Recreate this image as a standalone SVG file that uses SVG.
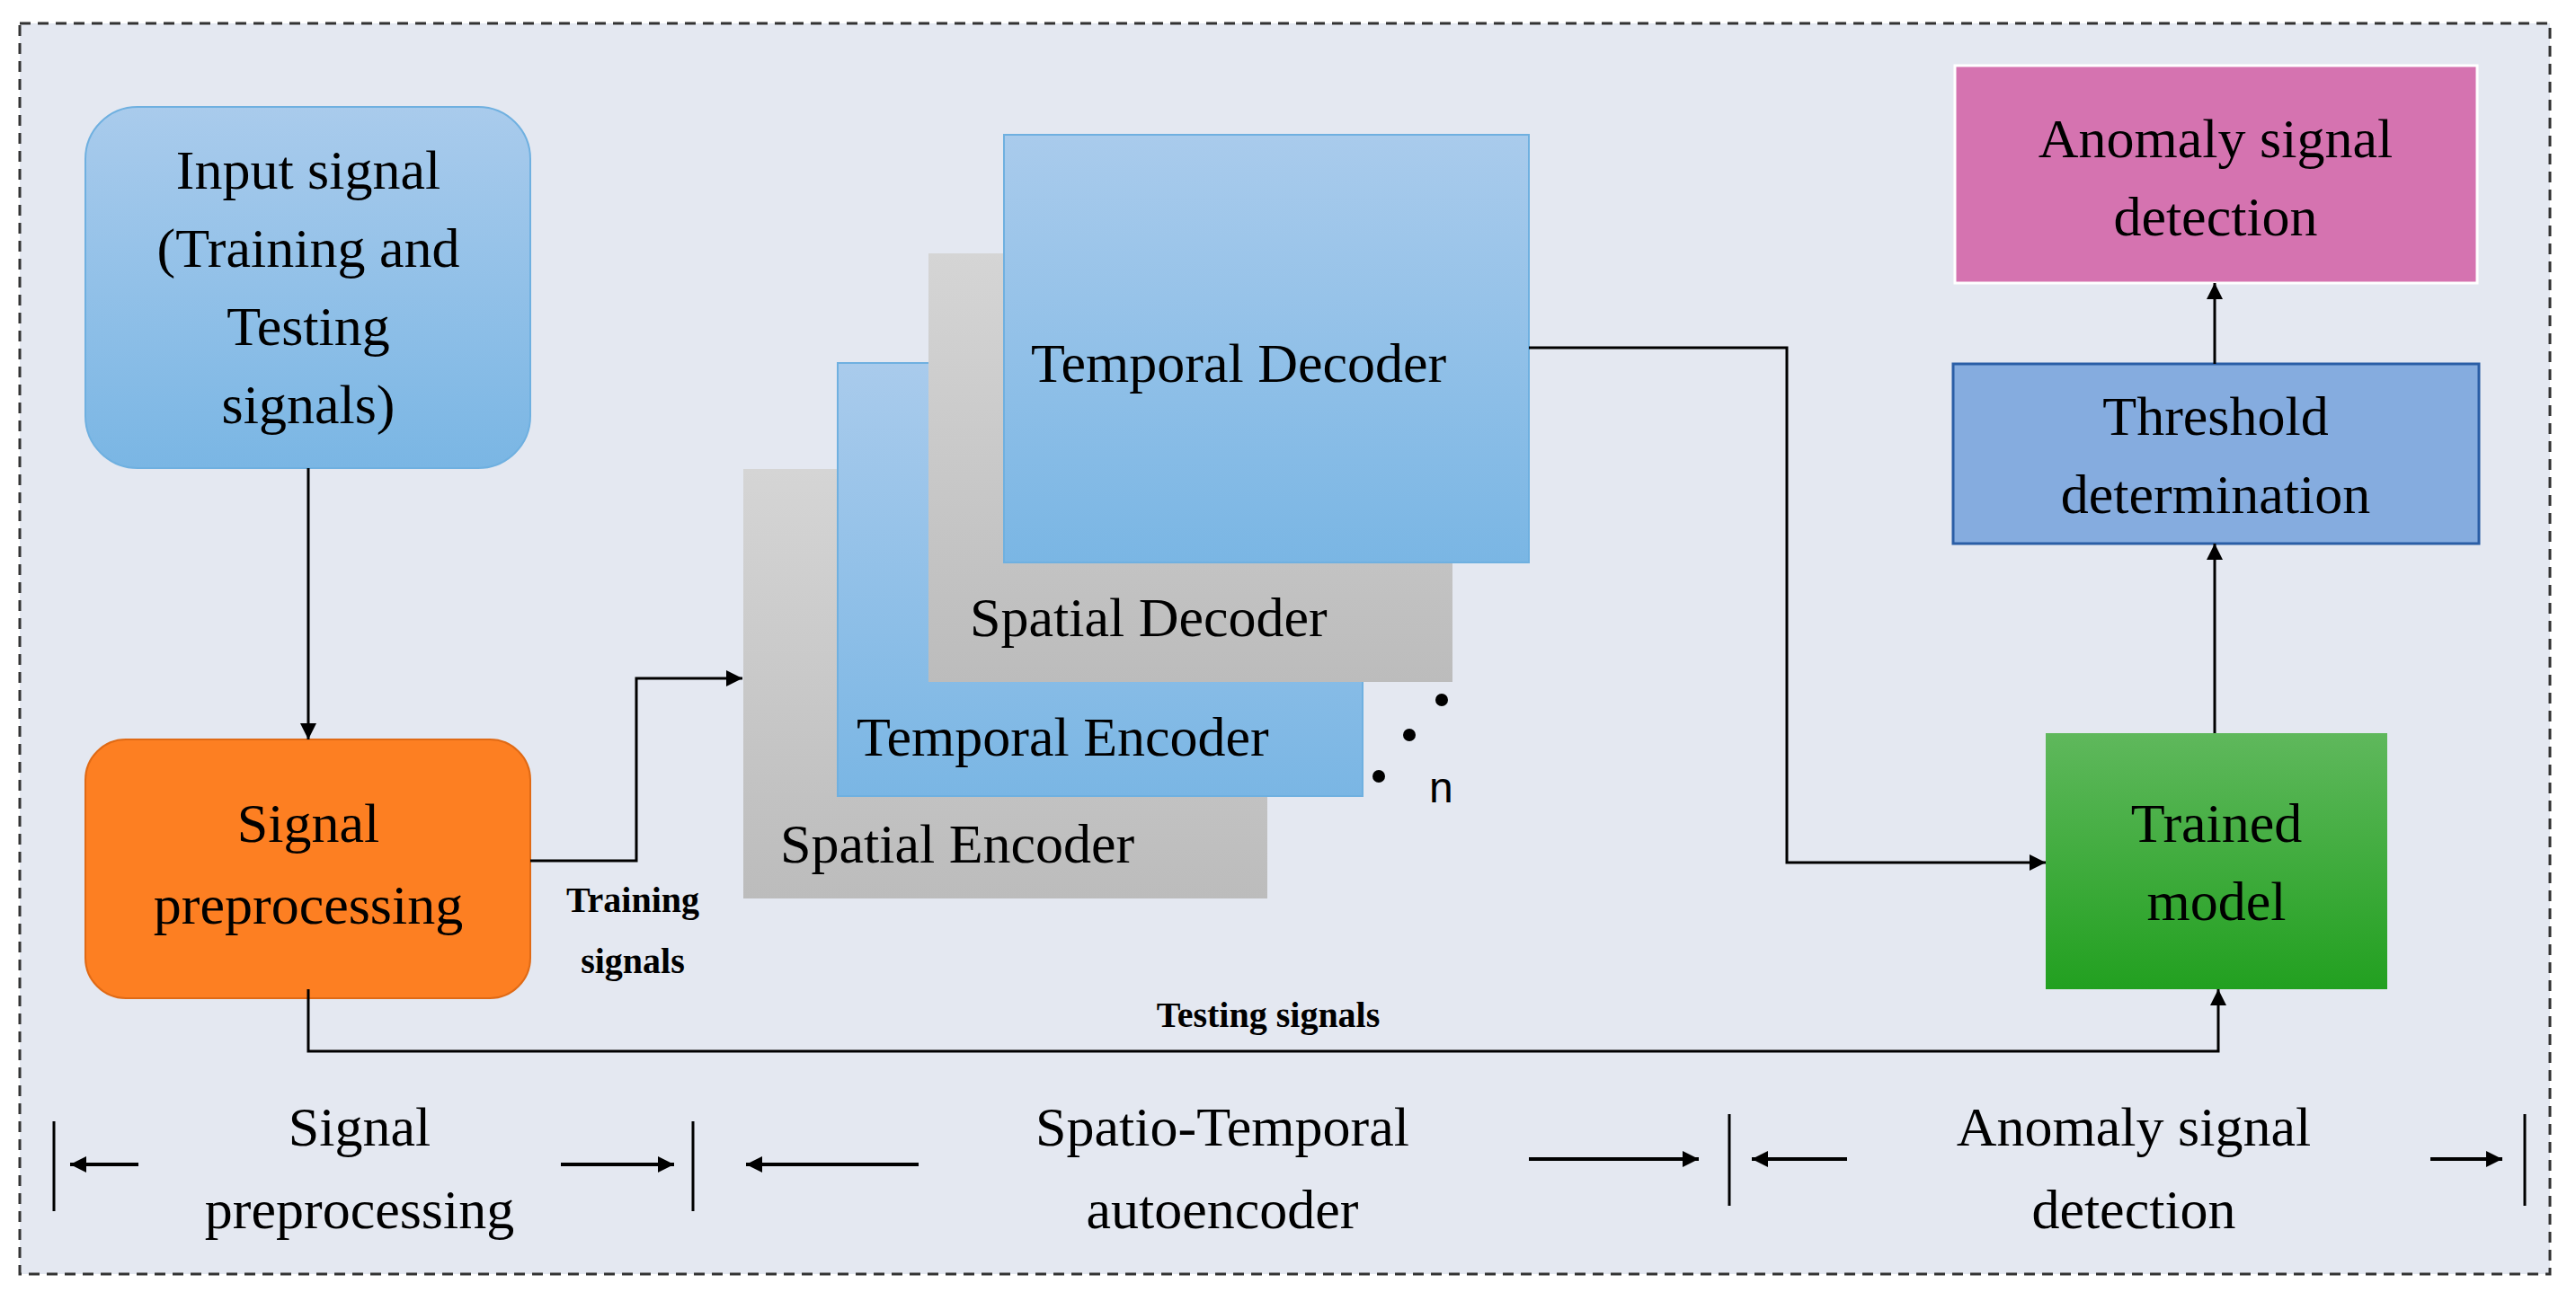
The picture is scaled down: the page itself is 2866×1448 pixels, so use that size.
<svg xmlns="http://www.w3.org/2000/svg" width="2866" height="1448" viewBox="0 0 2866 1448">
<defs>
<linearGradient id="gb" x1="0" y1="0" x2="0" y2="1"><stop offset="0" stop-color="#a9cbec"/><stop offset="1" stop-color="#7ab6e4"/></linearGradient>
<linearGradient id="gg" x1="0" y1="0" x2="0" y2="1"><stop offset="0" stop-color="#d5d5d5"/><stop offset="1" stop-color="#bcbcbc"/></linearGradient>
<linearGradient id="gn" x1="0" y1="0" x2="0" y2="1"><stop offset="0" stop-color="#5fb85c"/><stop offset="1" stop-color="#22a020"/></linearGradient>
<marker id="ah" viewBox="0 0 10 10" refX="10" refY="5" markerWidth="7" markerHeight="7" orient="auto-start-reverse" markerUnits="userSpaceOnUse"><path d="M0,0 L10,5 L0,10 z" fill="#000"/></marker>
<marker id="ab" viewBox="0 0 10 10" refX="10" refY="5" markerWidth="18" markerHeight="18" orient="auto" markerUnits="userSpaceOnUse"><path d="M0,0 L10,5 L0,10 z" fill="#000"/></marker>
</defs>
<style>
text{font-family:"Liberation Serif","Times New Roman",serif;fill:#000}
.t{font-size:62px;text-anchor:middle}
.l{font-size:62px}
.b{font-size:40px;font-weight:bold;text-anchor:middle}
.c{fill:none;stroke:#000;stroke-width:3;marker-end:url(#ab)}
.s{fill:none;stroke:#000;stroke-width:4;marker-end:url(#ab)}
.v{stroke:#000;stroke-width:3}
</style>
<rect x="0" y="0" width="2866" height="1448" fill="#fff"/>
<rect x="22" y="26" width="2815" height="1392" fill="#e4e8f1" stroke="#333" stroke-width="3" stroke-dasharray="12,8"/>
<g id="input"><rect x="95" y="119" width="495" height="402" rx="58" fill="url(#gb)" stroke="#6fb0e0" stroke-width="2"/>
<text class="t" x="343" y="210">Input signal</text><text class="t" x="343" y="297">(Training and</text><text class="t" x="343" y="384">Testing</text><text class="t" x="343" y="471">signals)</text></g>
<g id="preproc"><rect x="95" y="823" width="495" height="288" rx="45" fill="#fd7f22" stroke="#e06a15" stroke-width="2"/>
<text class="t" x="343" y="937">Signal</text><text class="t" x="343" y="1028">preprocessing</text></g>
<g id="spenc"><rect x="827" y="522" width="583" height="478" fill="url(#gg)"/><text class="l" x="868" y="960">Spatial Encoder</text></g>
<g id="tenc"><rect x="932" y="404" width="584" height="482" fill="url(#gb)" stroke="#6fb0e0" stroke-width="2"/><text class="l" x="953" y="841">Temporal Encoder</text></g>
<g id="spdec"><rect x="1033" y="282" width="583" height="477" fill="url(#gg)"/><text class="l" x="1079" y="708">Spatial Decoder</text></g>
<g id="tdec"><rect x="1117" y="150" width="584" height="476" fill="url(#gb)" stroke="#6fb0e0" stroke-width="2"/><text class="l" x="1147" y="425">Temporal Decoder</text></g>
<g id="dots"><circle cx="1604" cy="779" r="7"/><circle cx="1568" cy="818" r="7"/><circle cx="1534" cy="864" r="7"/>
<text x="1590" y="893" style="font-family:'Liberation Sans',Arial,sans-serif;font-size:48px">n</text></g>
<g id="anomaly"><rect x="2175" y="73" width="581" height="242" fill="#d573b0" stroke="#fff" stroke-width="3"/>
<text class="t" x="2465" y="175">Anomaly signal</text><text class="t" x="2465" y="262">detection</text></g>
<g id="threshold"><rect x="2173" y="405" width="585" height="200" fill="#85acdf" stroke="#2a5ea6" stroke-width="3"/>
<text class="t" x="2465" y="484">Threshold</text><text class="t" x="2465" y="571">determination</text></g>
<g id="trained"><rect x="2276" y="816" width="380" height="285" fill="url(#gn)"/>
<text class="t" x="2466" y="937">Trained</text><text class="t" x="2466" y="1024">model</text></g>
<g id="connectors">
<path class="c" d="M343,521 V823"/>
<path class="c" d="M590,958 H708 V755 H826"/>
<path class="c" d="M1701,387 H1988 V960 H2276"/>
<path class="c" d="M343,1101 V1170 H2468 V1101"/>
<path class="c" d="M2464,816 V605"/>
<path class="c" d="M2464,405 V315"/>
<text class="b" x="704" y="1015">Training</text><text class="b" x="704" y="1083">signals</text>
<text class="b" x="1411" y="1143">Testing signals</text>
<line class="v" x1="60" y1="1248" x2="60" y2="1348"/><line class="v" x1="771" y1="1248" x2="771" y2="1348"/>
<line class="v" x1="1924" y1="1240" x2="1924" y2="1342"/><line class="v" x1="2809" y1="1240" x2="2809" y2="1342"/>
<path class="s" d="M154,1296 H78"/><path class="s" d="M624,1296 H750"/>
<path class="s" d="M1022,1296 H830"/><path class="s" d="M1701,1290 H1890"/>
<path class="s" d="M2055,1290 H1949"/><path class="s" d="M2704,1290 H2784"/>
</g>
<g id="labels">
<text class="t" x="400" y="1275">Signal</text><text class="t" x="400" y="1367">preprocessing</text>
<text class="t" x="1360" y="1275">Spatio-Temporal</text><text class="t" x="1360" y="1367">autoencoder</text>
<text class="t" x="2374" y="1275">Anomaly signal</text><text class="t" x="2374" y="1367">detection</text>
</g>
</svg>
